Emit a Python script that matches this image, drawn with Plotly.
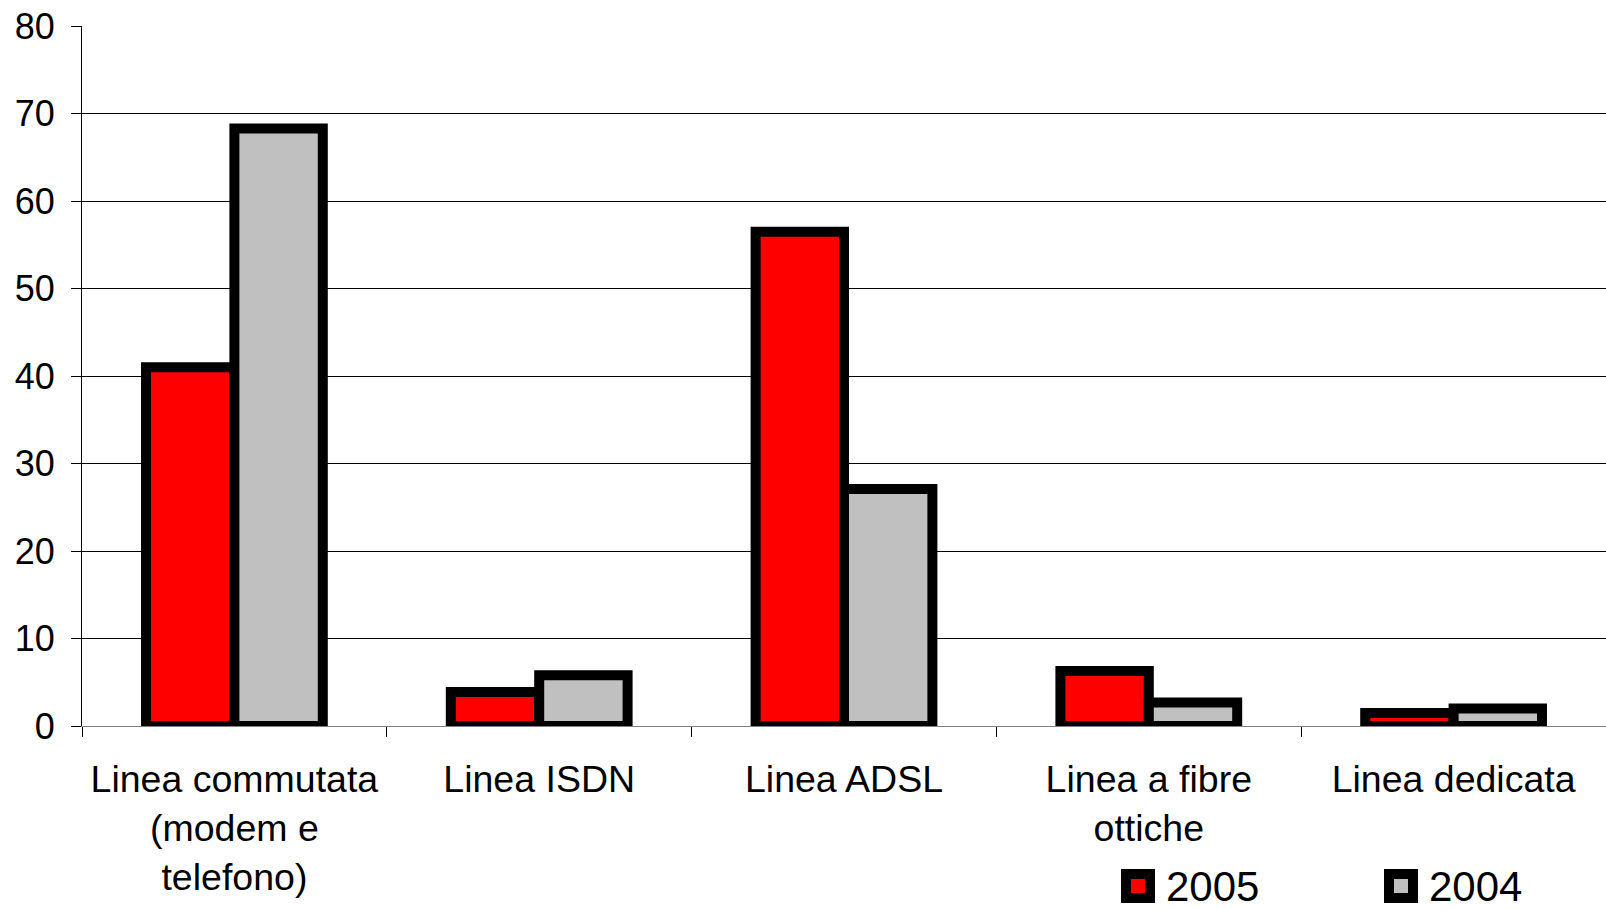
import plotly.graph_objects as go

categories = ["Linea commutata<br>(modem e<br>telefono)", "Linea ISDN", "Linea ADSL",
              "Linea a fibre<br>ottiche", "Linea dedicata"]
series_names = ["2005", "2004"]
values_2005 = [41, 3.9, 56.5, 6.3, 1.5]
values_2004 = [68.3, 5.8, 27.1, 2.7, 2.0]
series_colors = ["#FF0000", "#C0C0C0"]
y_ticks = [0, 10, 20, 30, 40, 50, 60, 70, 80]

FONT = "Liberation Sans, Arial, sans-serif"
W, H = 1606, 910
ML, MR, MT, MB = 82, 0, 26, 184
PW = W - ML - MR
PH = H - MT - MB

fig = go.Figure()
for name, vals, col in zip(series_names, [values_2005, values_2004], series_colors):
    fig.add_trace(go.Bar(x=categories, y=vals, name=name, showlegend=False,
                         marker=dict(color=col, line=dict(color="black", width=10))))

# custom legend (large symbols like the original)
def px_to_paper_x(px):
    return (px - ML) / PW

def px_to_paper_y(py):
    return (H - MB - py) / PH

legend_x = [1126, 1389]
legend_y = 886
for lx, name, col in zip(legend_x, series_names, series_colors):
    fig.add_shape(type="rect", xref="paper", yref="paper",
                  x0=px_to_paper_x(lx), x1=px_to_paper_x(lx + 24),
                  y0=px_to_paper_y(legend_y + 12), y1=px_to_paper_y(legend_y - 12),
                  fillcolor=col, line=dict(color="black", width=10))
    fig.add_annotation(xref="paper", yref="paper", x=px_to_paper_x(lx + 38),
                       y=px_to_paper_y(legend_y), xanchor="left", yanchor="middle",
                       text=name, showarrow=False, font=dict(size=42, family=FONT, color="black"))

fig.update_layout(
    width=W, height=H,
    margin=dict(l=ML, r=MR, t=MT, b=MB, autoexpand=False),
    paper_bgcolor="white", plot_bgcolor="white",
    barmode="group", bargap=0.42, bargroupgap=0,
    font=dict(family=FONT, size=36, color="black"),
    showlegend=False,
)
fig.update_xaxes(
    type="category", showline=True, linecolor="#808080", linewidth=1,
    ticks="outside", tickson="boundaries", ticklen=10, tickcolor="black",
    showgrid=False, tickfont=dict(size=37.5), tickangle=0, ticklabelstandoff=20,
)
fig.update_yaxes(
    range=[0, 80], tickvals=y_ticks, showline=True, linecolor="black", linewidth=1,
    ticks="outside", ticklen=10, tickcolor="black",
    showgrid=True, gridcolor="black", gridwidth=1, zeroline=False,
    tickfont=dict(size=36), ticklabelstandoff=9,
)

fig.write_html("out.html", config={"displayModeBar": False},
               post_script="document.body.style.margin='0';document.body.style.overflow='hidden';")
